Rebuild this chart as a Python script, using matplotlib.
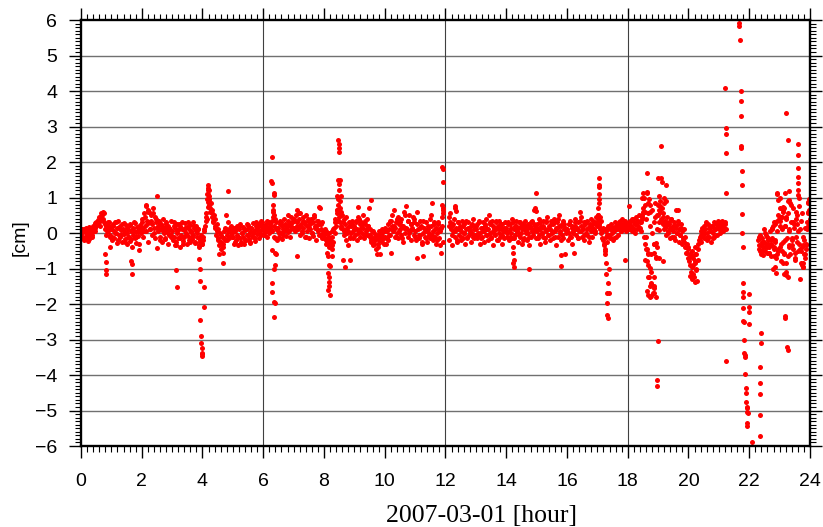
"""GPS height residuals for 2007-03-01, drawn as red dots on a GMT-like frame."""
import matplotlib

matplotlib.use("Agg")
import matplotlib.pyplot as plt
from matplotlib.ticker import MultipleLocator
import numpy as np

nan = float("nan")

STEP_H = 0.025

h00 = [-0.05, 0.10, -0.15, 0.02, -0.20, 0.08, -0.10, 0.15, -0.02, -0.22,
       0.05, 0.18, -0.08, 0.00, -0.12, 0.12, 0.20, 0.05, 0.28, 0.15,
       0.30, 0.22, 0.38, 0.25, 0.45, 0.35, 0.55, 0.42, 0.50, 0.60,
       0.30, 0.10, 0.25, -0.05, 0.15, 0.32, 0.05, 0.20, -0.10, 0.12]
h01 = [0.10, -0.20, 0.25, 0.05, -0.15, 0.30, 0.00, -0.28, 0.15, 0.35,
       -0.05, 0.20, -0.12, 0.08, -0.25, 0.12, 0.28, -0.02, -0.18, 0.22,
       0.00, -0.30, 0.10, -0.10, 0.25, -0.22, 0.05, -0.38, 0.15, -0.05,
       0.30, -0.15, 0.02, -0.28, 0.18, -0.08, 0.10, -0.48, 0.22, 0.00]
h02 = [0.15, 0.40, -0.10, 0.55, 0.20, 0.75, 0.05, 0.35, -0.25, 0.60,
       0.30, 0.10, 0.50, -0.05, 0.25, 0.70, 0.15, 0.45, -0.15, 0.30,
       -0.42, 0.20, 0.05, 0.35, -0.10, 0.25, 0.10, -0.25, 0.40, 0.00,
       0.15, -0.18, 0.30, 0.05, -0.30, 0.20, -0.05, 0.10, 0.35, -0.12]
h03 = [0.05, -0.20, 0.30, -0.10, 0.15, -0.35, 0.00, 0.25, -0.15, 0.10,
       -0.40, 0.20, -0.05, 0.32, -0.22, 0.08, -0.12, 0.28, 0.00, -0.30,
       0.18, -0.08, 0.12, -0.25, 0.22, 0.02, -0.18, 0.30, -0.05, 0.15,
       -0.28, 0.05, 0.20, -0.10, 0.10, -0.35, -0.15, -0.25, -0.10, -0.30]
h04 = [-0.30, -0.10, 0.05, 0.20, 0.35, 0.55, 0.95, 1.20, 1.05, 0.80,
       0.60, 0.85, 0.45, 0.65, 0.30, 0.50, 0.15, 0.40, -0.05, 0.25,
       -0.20, 0.10, -0.35, 0.00, -0.25, -0.45, -0.10, -0.30, 0.05, -0.20,
       0.15, 0.50, -0.05, 0.30, 0.05, -0.15, 0.10, -0.05, 0.20, 0.00]
h05 = [-0.10, 0.15, -0.30, 0.05, -0.20, 0.20, -0.05, -0.35, 0.10, -0.15,
       0.25, -0.25, 0.00, 0.18, -0.10, -0.32, 0.08, -0.20, 0.12, -0.05,
       0.22, -0.18, 0.02, -0.28, 0.15, -0.08, 0.28, -0.12, 0.05, -0.22,
       0.10, 0.30, -0.02, 0.18, -0.15, 0.25, 0.05, 0.35, 0.10, 0.20]
h06 = [0.10, -0.05, 0.20, 0.05, 0.25, -0.10, 0.15, 0.30, 0.00, 0.20,
       0.10, 0.35, 0.05, 0.60, 0.20, 0.40, -0.15, 0.10, -0.20, 0.05,
       0.15, -0.10, 0.25, 0.00, 0.30, -0.18, 0.12, 0.40, 0.05, 0.22,
       -0.08, 0.18, 0.35, 0.02, 0.25, -0.12, 0.45, 0.10, 0.30, 0.15]
h07 = [0.15, 0.35, 0.05, 0.50, 0.20, 0.65, 0.10, 0.40, -0.05, 0.55,
       0.25, 0.00, 0.45, 0.15, 0.30, -0.10, 0.50, 0.20, 0.05, 0.35,
       -0.15, 0.25, 0.10, 0.40, 0.00, 0.30, -0.08, 0.45, 0.15, 0.20,
       -0.20, 0.35, 0.05, 0.25, -0.05, 0.70, 0.10, 0.30, -0.15, 0.05]
h08 = [-0.15, 0.10, -0.30, 0.05, -0.25, -0.10, -0.40, 0.00, -0.20, -0.35,
       -0.10, 0.05, -0.25, 0.15, 0.00, 0.30, 0.20, 0.55, 0.35, 0.80,
       0.45, 0.30, 0.60, 0.20, 0.50, 0.10, 0.40, -0.05, 0.25, -0.20,
       0.15, -0.35, 0.05, 0.30, -0.10, 0.20, 0.00, 0.35, -0.15, 0.10]
h09 = [0.20, -0.05, 0.35, 0.10, -0.20, 0.45, 0.05, 0.25, -0.10, 0.30,
       0.00, 0.50, 0.15, -0.15, 0.25, 0.05, 0.40, -0.05, 0.20, 0.70,
       -0.10, 0.10, -0.25, 0.05, -0.15, -0.35, 0.00, -0.20, -0.05, -0.45,
       -0.10, -0.30, 0.05, -0.20, -0.60, -0.15, 0.00, -0.25, -0.10, -0.30]
h10 = [-0.10, 0.15, -0.30, 0.05, -0.20, 0.10, -0.05, 0.35, -0.55, 0.20,
       0.50, 0.05, 0.65, 0.15, -0.10, 0.30, 0.00, 0.45, -0.15, 0.25,
       0.10, 0.40, -0.05, 0.20, -0.25, 0.15, 0.60, 0.00, 0.75, 0.10,
       0.35, -0.10, 0.50, 0.05, 0.25, -0.20, 0.15, 0.45, -0.05, 0.30]
h11 = [0.05, -0.20, 0.60, -0.70, 0.10, -0.15, 0.35, -0.05, 0.20, -0.30,
       0.00, -0.65, 0.15, -0.10, 0.30, 0.05, -0.25, 0.10, -0.05, 0.40,
       -0.15, 0.20, 0.85, -0.20, 0.05, 0.30, -0.10, 0.15, -0.30, 0.00,
       0.25, -0.15, 0.10, -0.35, -0.55, 0.45, 0.20, 0.65, nan, nan]
h12 = [nan, nan, nan, nan, 0.45, -0.20, 0.30, 0.10, -0.35, 0.20,
       0.05, 0.40, -0.10, 0.70, 0.15, -0.25, 0.10, 0.30, -0.05, 0.20,
       -0.20, 0.05, 0.35, -0.15, 0.00, 0.25, -0.30, 0.10, -0.10, 0.15,
       0.30, -0.05, 0.05, -0.25, 0.20, 0.00, 0.40, -0.15, 0.10, -0.05]
h13 = [0.10, -0.15, 0.25, -0.05, 0.35, 0.00, -0.30, 0.15, -0.10, 0.30,
       0.05, -0.25, 0.20, 0.40, -0.05, 0.10, -0.20, 0.50, 0.00, 0.25,
       -0.15, 0.35, 0.05, -0.35, 0.15, -0.05, 0.30, 0.10, -0.20, 0.20,
       0.00, 0.35, -0.10, 0.15, -0.30, 0.25, 0.05, -0.15, 0.30, 0.10]
h14 = [0.15, -0.10, 0.30, 0.05, -0.20, 0.25, 0.00, 0.40, -0.15, -0.40,
       0.10, 0.20, -0.05, 0.35, 0.05, -0.25, 0.15, 0.30, -0.10, 0.20,
       0.00, -0.30, 0.25, 0.10, -0.15, 0.35, 0.05, -0.20, 0.15, 0.00,
       -0.35, 0.20, -0.10, 0.30, 0.05, -0.05, 0.25, 0.65, 0.10, -0.15]
h15 = [0.05, 0.25, -0.15, 0.40, 0.10, -0.30, 0.20, 0.00, 0.35, -0.10,
       0.15, -0.25, 0.30, 0.05, 0.45, -0.05, 0.20, -0.20, 0.10, 0.35,
       0.00, 0.25, -0.15, 0.40, 0.05, -0.35, 0.15, 0.30, -0.10, 0.20,
       0.50, 0.05, -0.20, 0.25, -0.05, 0.35, 0.10, -0.60, 0.15, 0.00]
h16 = [0.10, -0.20, 0.25, 0.00, 0.35, -0.10, 0.15, -0.30, 0.05, -0.55,
       0.20, 0.40, -0.05, 0.15, 0.30, -0.15, 0.05, 0.60, 0.45, 0.20,
       -0.10, 0.10, 0.30, -0.20, 0.25, 0.00, 0.35, -0.05, 0.15, -0.25,
       0.20, 0.05, 0.40, -0.10, 0.25, 0.10, 0.30, 0.00, 0.45, 0.20]
h17 = [0.30, 0.50, 0.20, 0.45, 0.10, 0.35, 0.05, -0.20, 0.15, -0.30,
       -0.45, 0.05, -0.10, -0.25, 0.20, -0.05, 0.10, -0.15, 0.25, 0.00,
       -0.20, 0.15, 0.05, 0.30, -0.10, 0.20, 0.10, -0.05, 0.25, 0.15,
       0.35, 0.05, 0.20, 0.40, 0.10, 0.25, 0.15, 0.30, 0.05, 0.20]
h18 = [0.25, 0.75, 0.10, 0.35, 0.20, 0.05, 0.40, 0.15, 0.30, 0.00,
       0.25, 0.45, 0.10, 0.35, 0.20, 0.50, 0.15, 0.30, 0.05, 0.40,
       0.60, 1.00, -0.10, 0.80, -0.45, 1.15, -0.80, 0.55, -1.25, 0.20,
       -1.45, -0.60, 0.65, -1.70, 0.30, -0.30, 0.85, -0.70, 0.10, 0.50]
h19 = [0.80, 1.05, 0.60, 0.90, 0.40, 0.70, 0.25, 0.55, 0.10, 0.35,
       -0.05, 0.20, 0.45, 0.00, 0.30, -0.15, 0.15, 0.40, -0.10, 0.20,
       0.05, 0.30, -0.20, 0.15, 0.65, 0.00, 0.35, -0.25, 0.10, -0.05,
       0.25, -0.30, 0.05, -0.20, 0.10, -0.40, -0.10, -0.55, -0.30, -0.70]
h20 = [-0.45, -0.80, -0.60, -1.10, -0.50, -0.95, -0.70, -1.25, -0.40, -0.85,
       -0.60, -1.35, -0.30, -0.75, -0.20, -0.10, 0.05, -0.25, 0.15, -0.05,
       0.20, -0.15, 0.10, 0.30, -0.20, 0.00, 0.25, -0.10, 0.15, 0.05,
       -0.25, 0.20, 0.00, 0.30, -0.10, 0.10, 0.25, -0.05, 0.15, 0.35]
h21 = [0.10, 0.30, 0.00, 0.20, 0.35, 0.05, 0.25, 0.15, 0.30, 0.10] + [nan] * 30
h22 = [nan] * 12 + [
       -0.20, -0.45, -0.05, -0.35, -0.60, -0.15, -0.40, 0.10, -0.25, -0.50,
       -0.30, -0.10, -0.55, -0.20, -0.40, 0.05, -0.35, -0.65, -0.15, 0.20,
       -0.45, 0.30, -0.25, -0.70, 0.05, 1.10, -0.50, 0.40]
h23 = [-0.40, 0.35, -0.80, 0.10, -0.25, 0.60, -0.55, 0.20, -1.10, 0.45,
       -0.15, 0.90, -0.35, 0.05, -0.60, 0.30, -0.20, 0.70, -0.45, 0.15,
       -0.70, 0.40, -0.10, 0.25, -0.50, 1.00, -0.30, 0.10, -0.85, 0.55,
       -0.40, -0.95, -0.20, -0.60, 0.15, -0.35, 0.30, 0.55, 0.85, 0.95]

band_rows = [h00, h01, h02, h03, h04, h05, h06, h07, h08, h09, h10, h11,
             h12, h13, h14, h15, h16, h17, h18, h19, h20, h21, h22, h23]

# A second, coarser pass through the band (3-minute spacing, shifted 45 s).
STEP_B = 0.05
OFFSET_B = 0.0125

g00 = [0.05, -0.15, 0.12, -0.08, 0.00, -0.18, 0.10, -0.05, 0.15, 0.05,
       0.25, 0.35, 0.20, 0.48, 0.40, 0.55, 0.20, 0.05, 0.30, -0.05]
g01 = [-0.10, 0.20, 0.00, 0.30, -0.20, 0.15, -0.05, 0.25, 0.05, -0.25,
       0.15, -0.10, 0.22, -0.18, 0.08, 0.28, -0.12, 0.05, -0.30, 0.12]
g02 = [0.30, 0.05, 0.45, 0.25, 0.60, 0.10, 0.35, 0.55, 0.00, 0.40,
       0.15, 0.30, -0.20, 0.20, 0.05, -0.15, 0.25, 0.00, 0.15, -0.05]
g03 = [-0.10, 0.20, -0.25, 0.05, 0.25, -0.15, 0.10, -0.30, 0.15, -0.05,
       0.30, -0.20, 0.05, -0.10, 0.20, -0.25, 0.00, 0.12, -0.20, -0.05]
g04 = [-0.20, 0.10, 0.45, 1.10, 0.90, 0.70, 0.55, 0.35, 0.20, 0.05,
       -0.15, -0.30, -0.05, -0.40, -0.15, 0.10, -0.20, 0.05, 0.15, -0.10]
g05 = [0.05, -0.25, 0.15, -0.10, 0.20, -0.30, 0.00, 0.10, -0.20, 0.25,
       -0.05, -0.25, 0.15, 0.00, -0.15, 0.20, 0.05, 0.25, -0.05, 0.30]
g06 = [0.00, 0.20, 0.35, 0.10, 0.25, 0.05, 0.45, -0.10, 0.30, 0.15,
       0.00, 0.35, 0.20, -0.05, 0.25, 0.10, 0.50, 0.05, 0.20, 0.30]
g07 = [0.40, 0.10, 0.30, 0.55, 0.20, 0.05, 0.35, 0.25, -0.10, 0.40,
       0.15, 0.30, 0.00, 0.50, 0.20, 0.10, 0.35, -0.05, 0.25, 0.00]
g08 = [-0.05, -0.20, 0.00, -0.30, -0.15, -0.45, 0.10, 0.40, 0.65, 0.35,
       0.55, 0.15, 0.30, 0.05, 0.45, 0.00, 0.20, -0.15, 0.25, 0.05]
g09 = [0.10, 0.30, 0.00, 0.40, 0.15, 0.25, -0.05, 0.35, 0.10, 0.20,
       -0.05, -0.20, 0.05, -0.30, -0.10, -0.40, -0.05, -0.20, 0.10, -0.15]
g10 = [0.05, -0.15, 0.25, -0.05, 0.35, 0.10, 0.20, -0.10, 0.40, 0.05,
       0.30, -0.15, 0.20, 0.50, 0.15, 0.35, 0.00, 0.25, 0.10, 0.40]
g11 = [-0.10, 0.25, -0.05, 0.15, -0.25, 0.35, 0.05, -0.15, 0.20, 0.00,
       0.50, -0.05, 0.25, 0.10, -0.20, 0.30, 0.05, 0.15, -0.25, nan]
g12 = [nan, nan, 0.20, 0.55, -0.05, 0.25, 0.05, -0.20, 0.30, 0.10,
       -0.10, 0.20, 0.00, 0.35, -0.15, 0.15, 0.05, 0.25, -0.10, 0.20]
g13 = [0.20, 0.00, 0.30, -0.15, 0.15, 0.05, 0.25, -0.05, 0.10, 0.30,
       -0.10, 0.20, 0.00, 0.35, -0.20, 0.10, 0.25, -0.05, 0.15, 0.05]
g14 = [0.00, 0.25, -0.10, 0.15, 0.30, -0.15, 0.20, 0.05, -0.05, 0.30,
       0.10, -0.20, 0.20, 0.00, 0.25, -0.10, 0.15, 0.35, 0.05, 0.20]
g15 = [0.15, -0.05, 0.30, 0.00, 0.20, -0.15, 0.35, 0.10, -0.05, 0.25,
       0.05, 0.30, -0.10, 0.15, 0.40, 0.00, 0.20, -0.15, 0.25, 0.10]
g16 = [0.05, 0.25, -0.10, 0.20, 0.00, 0.30, 0.10, -0.15, 0.35, 0.05,
       0.20, -0.05, 0.30, 0.10, -0.10, 0.25, 0.15, 0.35, 0.05, 0.25]
g17 = [0.40, 0.25, 0.00, -0.15, -0.35, 0.10, -0.05, 0.15, -0.10, 0.20,
       0.05, -0.15, 0.20, 0.10, 0.30, 0.05, 0.25, 0.15, 0.35, 0.10]
g18 = [0.15, 0.30, 0.20, 0.40, 0.10, 0.25, 0.35, 0.15, 0.30, 0.45,
       0.70, -0.30, 0.40, -0.60, 0.95, -1.10, 0.00, -1.55, 0.45, -0.40]
g19 = [0.50, 0.75, 0.30, 0.45, 0.15, 0.30, 0.05, 0.25, 0.40, 0.10,
       -0.10, 0.20, 0.00, 0.25, -0.05, 0.15, -0.15, -0.25, -0.40, -0.55]
g20 = [-0.70, -0.90, -0.65, -1.15, -0.80, -1.00, -0.45, -0.20, -0.05, 0.10,
       0.00, 0.25, -0.10, 0.15, 0.05, 0.20, -0.15, 0.10, 0.25, 0.20]
g21 = [0.20, 0.05, 0.30, 0.15, 0.25] + [nan] * 15
g22 = [nan] * 6 + [-0.35, -0.10, -0.50, -0.25, -0.40, -0.05, -0.30, -0.55,
                   -0.20, 0.10, -0.40, 0.25, -0.60, 0.50]
g23 = [0.20, -0.50, 0.65, -0.20, 0.40, -0.65, 0.10, 0.80, -0.35, 0.25,
       -0.75, 0.50, 0.05, -0.45, 0.35, -0.10, -0.60, -0.30, 0.10, 0.65]

band_rows_b = [g00, g01, g02, g03, g04, g05, g06, g07, g08, g09, g10, g11,
               g12, g13, g14, g15, g16, g17, g18, g19, g20, g21, g22, g23]

# Fast excursions, read point by point: (hour, cm).
bursts = [
    (0.80, -0.60), (0.81, -0.83), (0.82, -1.05), (0.83, -1.15), (0.94, -0.40),
    (1.66, -0.80), (1.67, -0.88), (1.68, -1.15),
    (2.14, 0.80), (2.20, 0.65), (2.50, 1.04),
    (3.08, -0.34), (3.14, -1.05), (3.17, -1.52),
    (3.88, -0.38), (3.90, -0.73), (3.92, -1.00), (3.92, -1.35), (3.93, -2.45),
    (3.95, -2.89), (3.96, -3.11), (3.98, -3.25), (3.97, -3.46), (3.99, -3.41),
    (4.00, -3.38), (4.04, -2.09), (4.05, -1.51),
    (4.14, 0.40), (4.17, 0.88), (4.17, 1.35), (4.18, 1.28), (4.18, 1.10),
    (4.19, 0.73), (4.20, 1.20), (4.22, 0.95),
    (4.55, -0.60), (4.68, -0.57), (4.69, -0.85), (4.84, 1.18),
    (6.28, 2.13), (6.27, 1.46), (6.30, 1.40), (6.36, 1.12), (6.34, 1.07),
    (6.32, 0.79), (6.32, 0.65), (6.34, 0.51), (6.28, -0.48), (6.39, -0.57),
    (6.41, -0.60), (6.40, -0.90), (6.34, -1.00), (6.29, -1.40), (6.30, -1.65),
    (6.34, -1.93), (6.38, -1.96), (6.36, -2.38),
    (7.11, -0.64), (7.85, 0.72),
    (8.09, -0.57), (8.14, -0.66), (8.16, -0.90), (8.20, -0.92), (8.14, -1.14),
    (8.16, -1.23), (8.17, -1.37), (8.16, -1.50), (8.12, -1.60), (8.20, -1.75),
    (8.25, -0.65), (8.26, -0.34),
    (8.47, 2.62), (8.48, 2.50), (8.49, 2.39), (8.49, 2.27), (8.47, 1.49),
    (8.52, 1.49), (8.49, 1.38), (8.50, 1.20), (8.43, 1.04), (8.55, 1.04),
    (8.45, 0.95), (8.54, 0.89), (8.53, 0.70), (8.43, 0.65),
    (8.63, -0.76), (8.68, -0.95), (8.85, -0.76),
    (9.13, 0.72), (9.54, 0.92), (9.75, -0.60),
    (11.89, 0.79), (11.90, 1.87), (11.91, 1.80), (11.91, 1.44), (11.91, 0.70),
    (11.92, 0.56), (12.32, 0.75), (12.33, 0.62),
    (14.22, -0.85), (14.23, -0.57), (14.24, -0.75), (14.25, -0.95),
    (14.75, -1.01), (14.96, 0.70), (14.97, 1.12), (14.97, 0.63),
    (15.79, -0.63), (15.79, -0.93),
    (17.02, 0.50), (17.03, 0.30), (17.03, 0.70), (17.04, 0.95), (17.04, 1.10),
    (17.05, 0.85), (17.05, 1.54), (17.06, 1.30), (17.07, 1.35),
    (17.25, -0.50), (17.26, -0.60), (17.27, -0.85), (17.30, -1.16),
    (17.35, -1.42), (17.33, -1.68), (17.38, -1.68), (17.33, -1.96),
    (17.33, -2.31), (17.36, -2.40), (17.39, -1.00), (17.90, -0.76),
    (18.46, 1.00), (18.46, 0.50), (18.51, 1.14), (18.57, 0.60), (18.57, -0.76),
    (18.61, -0.10), (18.63, 1.70), (18.63, 1.14), (18.63, -0.45), (18.63, -1.62),
    (18.66, 0.85), (18.66, -0.57), (18.66, -0.90), (18.66, -1.23), (18.66, -1.75),
    (18.72, 0.80), (18.72, 0.60), (18.72, -1.79), (18.74, -0.98), (18.74, -1.50),
    (18.77, -1.40), (18.77, -1.78), (18.85, -0.55), (18.88, -0.30), (18.88, -1.23),
    (18.88, -1.50), (18.88, -1.70), (18.94, -1.79),
    (18.92, -0.28), (18.92, -0.67), (18.95, -4.14), (18.95, -4.31),
    (18.99, -3.05), (18.99, 1.54),
    (19.04, 0.65), (19.04, 0.30), (19.04, 0.08), (19.04, -0.70), (19.08, 2.46),
    (19.09, 1.54), (19.12, 1.45), (19.15, -0.80), (19.20, 0.98), (19.20, 0.85),
    (19.26, 0.90), (19.26, 1.35), (19.64, 0.65),
    (20.00, -0.40), (20.05, -1.20), (20.10, -1.30), (20.15, -0.90),
    (20.20, -0.60), (20.22, -1.38), (20.25, -1.05),
    (21.21, 4.09), (21.24, 2.96), (21.22, 2.80), (21.22, 2.25), (21.22, 1.13),
    (21.25, -3.60),
    (21.67, 5.91), (21.67, 5.83), (21.68, 5.44), (21.73, 4.00), (21.73, 3.72),
    (21.73, 3.30), (21.74, 2.46), (21.74, 2.40), (21.76, 1.75), (21.76, 1.35),
    (21.77, 0.54), (21.77, 0.00), (21.78, -0.40),
    (21.78, -1.42), (21.79, -1.65), (21.79, -1.80), (21.80, -2.10), (21.81, -2.47),
    (21.82, -2.52), (21.83, -3.01), (21.84, -3.37), (21.85, -3.44), (21.86, -3.48),
    (21.87, -3.98), (21.88, -4.36), (21.89, -4.52), (21.90, -4.75), (21.92, -4.89),
    (21.93, -4.94), (21.94, -5.03), (21.95, -5.08), (21.92, -5.36), (21.93, -5.44),
    (22.00, -1.72), (22.00, -2.08), (22.00, -2.23), (22.00, -2.57), (22.09, -5.90),
    (22.35, -3.78), (22.35, -4.22), (22.35, -4.53), (22.35, -5.13), (22.35, -5.71),
    (22.38, -2.81), (22.38, -3.11),
    (22.79, -1.00), (22.88, -1.14), (22.85, -0.95), (22.93, 1.14), (22.96, 0.93),
    (23.00, 1.00), (23.19, 1.14), (23.30, 1.18), (23.32, 0.93), (23.10, 0.73),
    (23.15, 0.70), (23.05, 0.45), (23.15, -1.16), (23.20, -1.18), (23.27, -1.23),
    (23.11, -0.85),
    (23.21, 3.38), (23.29, 2.61), (23.17, -2.33), (23.19, -2.40), (23.23, -3.22),
    (23.26, -3.30),
    (23.62, 2.50), (23.62, 2.19), (23.62, 1.82), (23.61, 1.59), (23.60, 1.40),
    (23.60, 1.20), (23.60, 1.07), (23.67, -1.30),
    (23.76, -0.85), (23.77, -0.95), (23.95, 0.88), (23.95, 0.60),
    # the busy last two hours carry more samples than the grids above
    (22.32, -0.10), (22.36, -0.50), (22.41, -0.25), (22.46, -0.62), (22.52, 0.00),
    (22.57, -0.40), (22.61, -0.15), (22.66, -0.55), (22.71, -0.30), (22.76, 0.15),
    (22.81, -0.65), (22.86, -0.20), (22.90, 0.35), (22.95, -0.45), (23.01, 0.70),
    (23.05, -0.30), (23.09, 0.45), (23.13, -0.60), (23.17, 0.20), (23.22, -0.85),
    (23.26, 0.55), (23.31, -0.40), (23.35, 0.85), (23.40, -0.15), (23.44, 0.30),
    (23.49, -0.55), (23.53, 0.60), (23.58, -0.25), (23.65, 0.75), (23.70, -0.50),
    (23.74, -0.90), (23.78, -0.35), (23.83, -0.70), (23.88, -0.45), (23.92, 0.20),
    (23.96, 0.60), (23.99, 0.40),
]

x_major = list(range(0, 25, 2))
y_major = list(range(-6, 7))


def grid_series(rows, n, step, offset=0.0):
    """Flatten hourly rows sampled on a regular grid into (hour, cm) arrays."""
    t, v = [], []
    for hour, row in enumerate(rows):
        assert len(row) == n, hour
        for i, val in enumerate(row):
            t.append(hour + offset + i * step)
            v.append(val)
    return np.array(t), np.array(v)


def main():
    t_a, v_a = grid_series(band_rows, 40, STEP_H)
    t_b, v_b = grid_series(band_rows_b, 20, STEP_B, OFFSET_B)
    t_burst, v_burst = (np.array(a) for a in zip(*bursts))

    fig = plt.figure(figsize=(8.23, 5.27), dpi=100)
    ax = fig.add_axes([0.0984, 0.1537, 0.8858, 0.8083])

    for y in y_major[1:-1]:
        ax.axhline(y, color="#707070", lw=1.0, zorder=1)
    for x in (6, 12, 18):
        ax.axvline(x, color="#404040", lw=0.8, zorder=1)

    dot = dict(ls="none", marker="o", ms=3.6, mew=0, color="#ff0000", zorder=3)
    ax.plot(t_a, v_a, **dot)
    ax.plot(t_b, v_b, **dot)
    ax.plot(t_burst, v_burst, **dot)

    ax.set_xlim(0, 24)
    ax.set_ylim(-6, 6)
    ax.set_xticks(x_major)
    ax.set_yticks(y_major)
    ax.set_yticklabels([str(y).replace("-", "\u2212") for y in y_major])
    ax.xaxis.set_minor_locator(MultipleLocator(0.2))
    ax.yaxis.set_minor_locator(MultipleLocator(0.1))

    ax.tick_params(which="both", direction="out", top=True, right=True,
                   colors="black")
    ax.tick_params(which="major", length=8.5, width=1.0, labelsize=14)
    ax.tick_params(axis="x", which="major", pad=11)
    ax.tick_params(axis="y", which="major", pad=8.5)
    ax.tick_params(which="minor", length=4.2, width=0.8)
    for lab in ax.get_xticklabels() + ax.get_yticklabels():
        lab.set_family(["Liberation Sans", "DejaVu Sans"])
    for sp in ax.spines.values():
        sp.set_linewidth(1.7)
        sp.set_zorder(5)

    fig.text(0.024, 0.55, "[cm]", rotation=90, ha="center", va="center",
             fontsize=14, family=["Liberation Sans", "DejaVu Sans"])
    fig.text(0.5845, 0.010, "2007-03-01 [hour]", ha="center", va="baseline",
             fontsize=18.5, family=["Liberation Serif", "DejaVu Serif"])

    fig.savefig("out.png", dpi=100)
    plt.close(fig)


if __name__ == "__main__":
    main()
